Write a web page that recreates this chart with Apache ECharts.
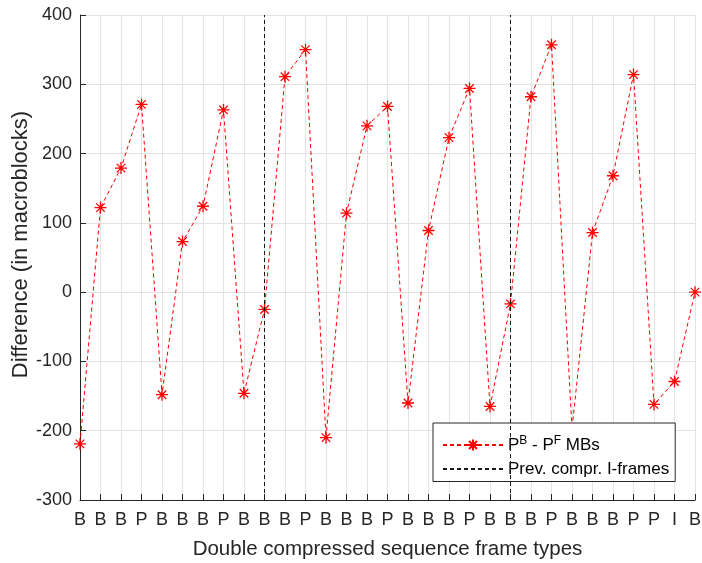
<!DOCTYPE html>
<html>
<head>
<meta charset="utf-8">
<script src="https://cdn.jsdelivr.net/npm/echarts@6/dist/echarts.min.js"></script>
<style>
html,body{margin:0;padding:0;background:#fff;}
#c{width:702px;height:563px;}
</style>
</head>
<body>
<div id="c"></div>
<script>
var frameTypes = ['B','B','B','P','B','B','B','P','B','B','B','P','B','B','B','P','B','B','B','P','B','B','B','P','B','B','B','P','P','I','B'];
var diffValues = [-219,122,179,271,-148,73,124,263,-146,-25,311,350,-210,114,240,268,-160,89,223,294,-165,-17,282,357,-198,86,168,314,-162,-129,0];
var iFrameIdx = [9, 21];
var yTicks = {min: -300, max: 400, step: 100};
var seriesNames = ['PBPF', 'IFR'];

var FONT = '"Liberation Sans", Arial, Helvetica, sans-serif';
var starPath = 'path://M0,-10L0,10M-10,0L10,0M-7.07,-7.07L7.07,7.07M-7.07,7.07L7.07,-7.07';

var chart = echarts.init(document.getElementById('c'), null, {renderer: 'canvas'});
chart.setOption({
  animation: false,
  backgroundColor: '#fff',
  textStyle: {fontFamily: FONT},
  grid: {left: 80, right: 7, top: 15, bottom: 63, containLabel: false, outerBoundsMode: 'none'},
  legend: {
    orient: 'vertical',
    left: 433, top: 423,
    padding: [12, 6, 4, 9],
    itemWidth: 60, itemHeight: 14, itemGap: 7,
    backgroundColor: '#fff',
    borderColor: '#262626', borderWidth: 1,
    data: [
      {name: seriesNames[0]},
      {name: seriesNames[1], itemStyle: {color: 'rgba(0,0,0,0)', borderColor: 'rgba(0,0,0,0)', borderWidth: 0, opacity: 0}}
    ],
    textStyle: {
      fontFamily: FONT, fontSize: 17, color: '#000',
      rich: {
        n: {fontFamily: FONT, fontSize: 17, color: '#000', lineHeight: 20},
        s: {fontFamily: FONT, fontSize: 12, color: '#000', verticalAlign: 'top', padding: [0, 0, 6, 0], lineHeight: 20}
      }
    },
    formatter: function (name) {
      if (name === 'PBPF') return '{n|P}{s|B}{n| - P}{s|F}{n| MBs}';
      return '{n|Prev. compr. I-frames}';
    }
  },
  xAxis: {
    type: 'category',
    data: frameTypes,
    boundaryGap: false,
    axisLine: {show: true, onZero: false, lineStyle: {color: '#262626', width: 1}},
    axisTick: {show: true, inside: true, length: 6, interval: 0, lineStyle: {color: '#262626'}},
    axisLabel: {interval: 0, fontSize: 18, color: '#262626', margin: 11, fontFamily: FONT},
    splitLine: {show: true, interval: 0, lineStyle: {color: '#e3e3e3', width: 1}},
    name: 'Double compressed sequence frame types',
    nameLocation: 'middle', nameGap: 39,
    nameTextStyle: {fontSize: 20.5, color: '#262626', fontFamily: FONT}
  },
  yAxis: {
    type: 'value',
    min: yTicks.min, max: yTicks.max, interval: yTicks.step,
    axisLine: {show: true, onZero: false, lineStyle: {color: '#262626', width: 1}},
    axisTick: {show: true, inside: true, length: 6, lineStyle: {color: '#262626'}},
    axisLabel: {fontSize: 18, color: '#262626', margin: 8, fontFamily: FONT},
    splitLine: {show: true, lineStyle: {color: '#e3e3e3', width: 1}},
    name: 'Difference (in macroblocks)',
    nameLocation: 'middle', nameGap: 48, nameRotate: 90, nameMoveOverlap: false,
    nameTextStyle: {fontSize: 22, color: '#262626', fontFamily: FONT, padding: [0, 0, 0, 26]}
  },
  series: [
    {
      name: seriesNames[0],
      type: 'line',
      data: diffValues,
      symbol: starPath,
      symbolSize: 12,
      showSymbol: true,
      lineStyle: {color: '#ff0000', width: 1, type: [4, 3]},
      itemStyle: {color: 'rgba(255,0,0,0)', borderColor: '#ff0000', borderWidth: 1.3},
      z: 3
    },
    {
      name: seriesNames[1],
      type: 'line',
      data: [],
      symbol: 'none',
      lineStyle: {color: '#1a1a1a', width: 1, type: [4, 3]},
      itemStyle: {color: 'rgba(0,0,0,0)'},
      markLine: {
        silent: true,
        symbol: 'none',
        label: {show: false},
        lineStyle: {color: '#1a1a1a', width: 1, type: [4, 3]},
        data: iFrameIdx.map(function (i) { return {xAxis: i}; })
      },
      z: 2
    }
  ]
});
</script>
</body>
</html>
